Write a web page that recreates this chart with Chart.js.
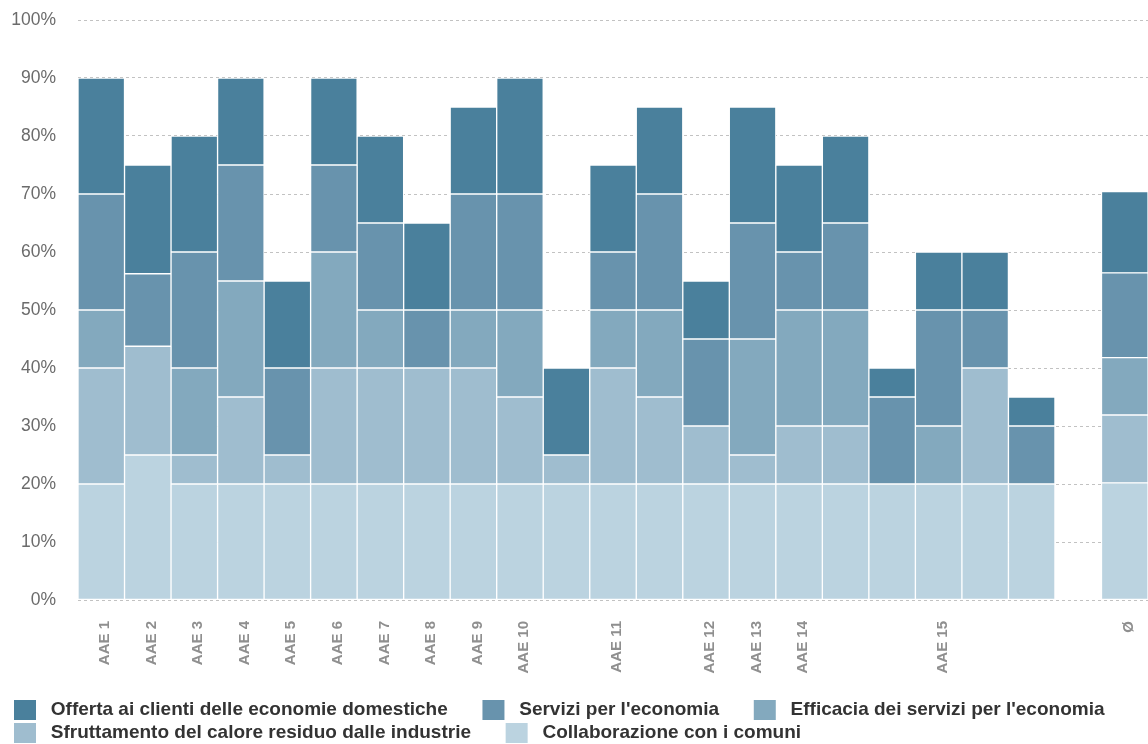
<!DOCTYPE html>
<html>
<head>
<meta charset="utf-8">
<script src="https://cdn.jsdelivr.net/npm/chart.js@4.4.0/dist/chart.umd.min.js"></script>
<style>
  html, body { margin: 0; padding: 0; background: #fff; overflow: hidden; }
  canvas { display: block; }
</style>
</head>
<body>
<canvas id="chart" width="1148" height="753"></canvas>
<script>
// Categorie (alcune barre senza etichetta nell'originale)
const categorie = ['AAE 1', 'AAE 2', 'AAE 3', 'AAE 4', 'AAE 5', 'AAE 6', 'AAE 7', 'AAE 8', 'AAE 9', 'AAE 10',
  '', 'AAE 11', '', 'AAE 12', 'AAE 13', 'AAE 14', '', '', 'AAE 15', '', '', '', 'Ø'];

// Valori in % (dal basso verso l'alto)
const collaborazione = [20, 25, 20, 20, 20, 20, 20, 20, 20, 20, 20, 20, 20, 20, 20, 20, 20, 20, 20, 20, 20, 0, 20.2];
const sfruttamento   = [20, 18.75, 5, 15, 5, 20, 20, 20, 20, 15, 5, 20, 15, 10, 5, 10, 10, 0, 0, 20, 0, 0, 11.7];
const efficacia      = [10, 0, 15, 20, 0, 20, 10, 0, 10, 15, 0, 10, 15, 0, 20, 20, 20, 0, 10, 0, 0, 0, 9.9];
const servizi        = [20, 12.5, 20, 20, 15, 15, 15, 10, 20, 20, 0, 10, 20, 15, 20, 10, 15, 15, 20, 10, 10, 0, 14.6];
const offerta        = [20, 18.75, 20, 15, 15, 15, 15, 15, 15, 20, 15, 15, 15, 10, 20, 15, 15, 5, 10, 10, 5, 0, 14.0];

const yTicks = [0, 10, 20, 30, 40, 50, 60, 70, 80, 90, 100];

const serie = [
  { label: 'Collaborazione con i comuni', data: collaborazione, color: '#bbd3e0' },
  { label: 'Sfruttamento del calore residuo dalle industrie', data: sfruttamento, color: '#9fbdcf' },
  { label: "Efficacia dei servizi per l'economia", data: efficacia, color: '#83a9be' },
  { label: "Servizi per l'economia", data: servizi, color: '#6893ad' },
  { label: 'Offerta ai clienti delle economie domestiche', data: offerta, color: '#4a809c' }
];

const font = 'Liberation Sans, Arial, sans-serif';

const ctx = document.getElementById('chart').getContext('2d');
const myChart = new Chart(ctx, {
  type: 'bar',
  data: {
    labels: categorie,
    datasets: serie.map(s => ({
      label: s.label,
      data: s.data,
      backgroundColor: s.color,
      borderColor: '#ffffff',
      borderWidth: 1,
      borderSkipped: false,
      barPercentage: 1,
      categoryPercentage: 1
    }))
  },
  options: {
    responsive: false,
    animation: false,
    layout: { padding: { top: 20, left: 11, right: 0, bottom: 0 } },
    scales: {
      x: {
        stacked: true,
        grid: { display: false, drawTicks: false },
        border: { display: false },
        ticks: {
          autoSkip: false, minRotation: 90, maxRotation: 90, padding: 21, labelOffset: 4,
          color: '#8f8f8f', font: { family: font, size: 15, weight: 'bold' }
        },
        afterFit: s => { s.height = 97; s.paddingLeft = 0; s.paddingRight = 0; }
      },
      y: {
        stacked: true,
        min: 0,
        max: 100,
        afterBuildTicks: s => { s.ticks = yTicks.map(v => ({ value: v })); },
        grid: { color: '#c2c2c2', lineWidth: 1, drawTicks: false },
        border: { display: false, dash: [3, 3] },
        ticks: {
          padding: 22, color: '#6b6b6b',
          font: { family: font, size: 17.5 },
          callback: v => v + '%'
        },
        afterFit: s => { s.width = 67; s.paddingTop = 0; s.paddingBottom = 0; }
      }
    },
    plugins: {
      tooltip: { enabled: false },
      legend: {
        position: 'bottom',
        align: 'start',
        labels: {
          boxWidth: 22,
          boxHeight: 20,
          padding: 3,
          color: '#333',
          font: { family: font, size: 19, weight: 'bold' },
          generateLabels: chart => {
            const items = Chart.defaults.plugins.legend.labels.generateLabels(chart).reverse();
            return items.map((it, i) => {
              it.text = ' ' + it.text + (i === 2 || i === 4 ? '' : '      ');
              it.lineWidth = 0;
              return it;
            });
          }
        }
      }
    }
  }
});
</script>
</body>
</html>
